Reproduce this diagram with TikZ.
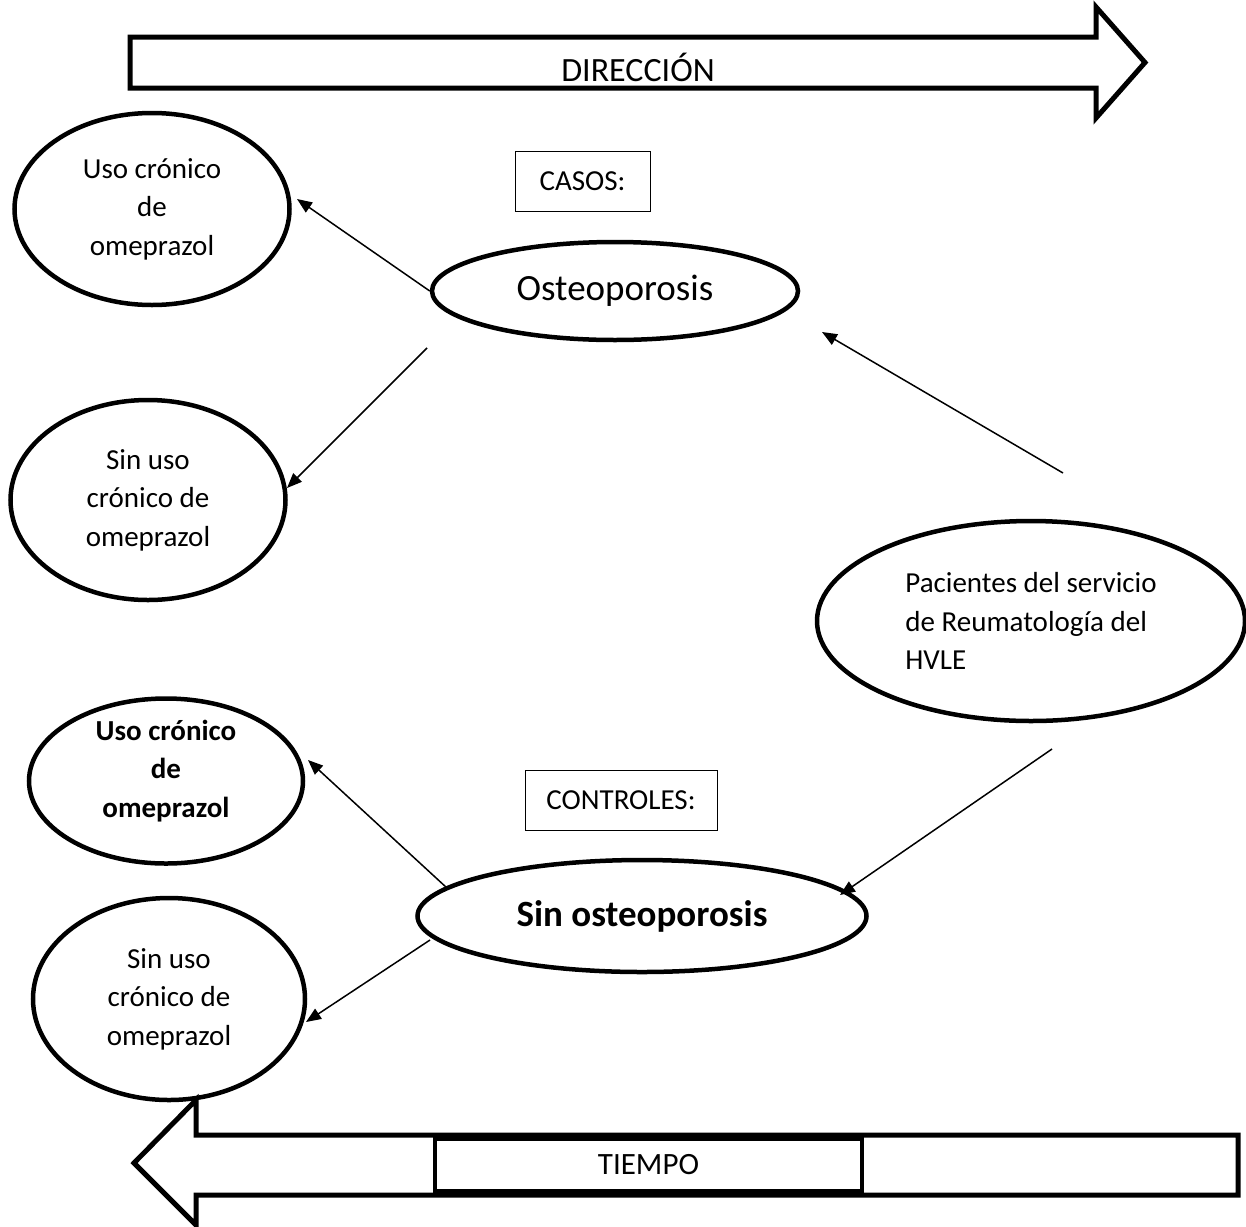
\documentclass[tikz,border=0pt]{standalone}
\usepackage{fontspec}
\setmainfont{Carlito}
\usetikzlibrary{shapes.geometric,arrows.meta}
\begin{document}
\begin{tikzpicture}[x=1pt,y=-1pt,
  oval/.style={draw,ellipse,line width=4.5pt,inner sep=0pt,align=center,font=\fontsize{29}{38.5}\selectfont},
  lbl/.style={draw,line width=1pt,inner sep=0pt,font=\fontsize{29}{38.5}\selectfont},
  conn/.style={line width=1.5pt,-{Triangle[length=15pt,width=12pt]}},
  bigarrow/.style={draw,line width=5pt,line join=miter},
  txt/.style={font=\fontsize{29}{38.5}\selectfont}]
\useasboundingbox (0,0) rectangle (1246,1226);

% top arrow
\draw[bigarrow] (130,37) -- (1096,37) -- (1096,7) -- (1145,62.5) -- (1096,118) -- (1096,88) -- (130,88) -- cycle;
\node[font=\fontsize{34}{40}\selectfont] (dir) at (638,67) {DIRECCIÓN};

% bottom arrow
\draw[bigarrow] (1238,1135) -- (196,1135) -- (196,1100) -- (134,1163) -- (196,1225) -- (196,1195) -- (1238,1195) -- cycle;
\node[draw,line width=4pt,minimum width=427pt,minimum height=52pt,inner sep=0pt,font=\fontsize{31}{38}\selectfont] (tiempo) at (648.5,1165) {TIEMPO};

% ellipses
\node[oval,minimum width=275pt,minimum height=192pt] (uso1) at (152,209) {Uso crónico\\de\\omeprazol};
\node[oval,minimum width=275pt,minimum height=200pt] (sin1) at (148,500) {Sin uso\\crónico de\\omeprazol};
\node[oval,font=\fontsize{37}{44}\selectfont,minimum width=366pt,minimum height=98pt] (osteo) at (615,291) {Osteoporosis};
\node[oval,align=left,minimum width=428pt,minimum height=200pt] (pac) at (1031,621) {Pacientes del servicio\\de Reumatología del\\HVLE};
\node[oval,minimum width=274pt,minimum height=165pt] (uso2) at (166,781) {};
\node[txt,font=\bfseries\fontsize{29}{38.5}\selectfont,align=center] (uso2t) at (166,771) {Uso crónico\\de\\omeprazol};
\node[oval,minimum width=272pt,minimum height=202pt] (sin2) at (169,999) {Sin uso\\crónico de\\omeprazol};
\node[oval,font=\bfseries\fontsize{37}{44}\selectfont,minimum width=449pt,minimum height=112pt] (nosteo) at (642,916) {Sin osteoporosis};

% label boxes
\node[lbl,minimum width=135pt,minimum height=60pt] (casos) at (582.5,181) {CASOS:};
\node[lbl,minimum width=192pt,minimum height=60pt] (controles) at (621,800) {CONTROLES:};

% connector end points
\coordinate (a1e) at (297,199);
\coordinate (a2s) at (427,348);
\coordinate (a2e) at (287,488);
\coordinate (a3s) at (1063,473);
\coordinate (a3e) at (822,332);
\coordinate (a4s) at (1052,749);
\coordinate (a4e) at (840,895);
\coordinate (a5s) at (447,888);
\coordinate (a5e) at (308,760);
\coordinate (a6s) at (430,940);
\coordinate (a6e) at (306,1022);

\draw[conn] (osteo.west) -- (a1e);
\draw[conn] (a2s) -- (a2e);
\draw[conn] (a3s) -- (a3e);
\draw[conn] (a4s) -- (a4e);
\draw[conn] (a5s) -- (a5e);
\draw[conn] (a6s) -- (a6e);
\end{tikzpicture}
\end{document}
